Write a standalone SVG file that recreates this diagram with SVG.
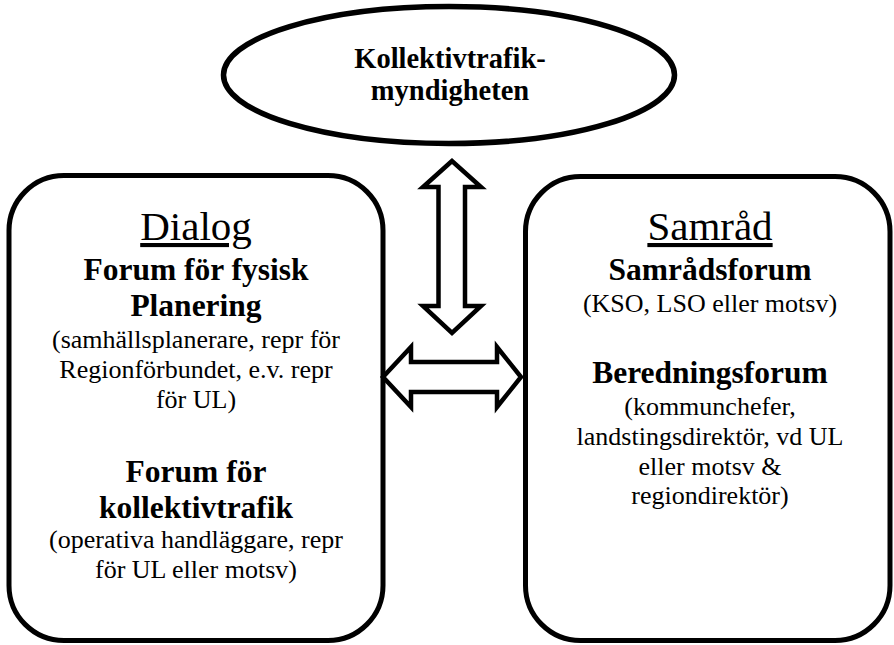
<svg xmlns="http://www.w3.org/2000/svg" width="894" height="645" viewBox="0 0 894 645">
<style>
.shape{fill:#fff;stroke:#000;stroke-width:5}
.arrow{fill:#fff;stroke:#000;stroke-width:4.5;stroke-linejoin:miter}
text{font-family:"Liberation Serif","Times New Roman",serif;fill:#000;text-anchor:middle}
.h{font-size:41px;text-decoration:underline}
.b{font-size:31.5px;font-weight:bold}
.r{font-size:26px}
.e{font-size:28.5px;font-weight:bold}
</style>
<rect width="894" height="645" fill="#fff"/>
<g id="myndigheten">
<ellipse class="shape" cx="449" cy="75" rx="225.5" ry="68.5" style="stroke-width:5.5"/>
<text class="e" x="450" y="68">Kollektivtrafik-</text>
<text class="e" x="450" y="100">myndigheten</text>
</g>
<g id="dialog">
<rect class="shape" x="9" y="175.5" width="374" height="465" rx="55" ry="55"/>
<text class="h" x="196" y="240">Dialog</text>
<text class="b" x="196" y="280">Forum för fysisk</text>
<text class="b" x="196" y="316">Planering</text>
<text class="r" x="196" y="348">(samhällsplanerare, repr för</text>
<text class="r" x="196" y="378">Regionförbundet, e.v. repr</text>
<text class="r" x="196" y="408">för UL)</text>
<text class="b" x="196" y="482">Forum för</text>
<text class="b" x="196" y="518">kollektivtrafik</text>
<text class="r" x="196" y="548">(operativa handläggare, repr</text>
<text class="r" x="196" y="578">för UL eller motsv)</text>
</g>
<g id="samrad">
<rect class="shape" x="525.5" y="176.5" width="364.5" height="464" rx="55" ry="55"/>
<text class="h" x="710" y="240">Samråd</text>
<text class="b" x="710" y="280">Samrådsforum</text>
<text class="r" x="710" y="312">(KSO, LSO eller motsv)</text>
<text class="b" x="710" y="383">Beredningsforum</text>
<text class="r" x="710" y="415">(kommunchefer,</text>
<text class="r" x="710" y="445">landstingsdirektör, vd UL</text>
<text class="r" x="710" y="475">eller motsv &amp;</text>
<text class="r" x="710" y="504">regiondirektör)</text>
</g>
<g id="connectors">
<polygon class="arrow" points="452,161 423,187 438.5,187 438.5,306 423,306 452,333 481,306 465,306 465,187 481,187"/>
<polygon class="arrow" points="383,377 411,347 411,362 497,362 497,347 521,377 497,407 497,392 411,392 411,407"/>
</g>
</svg>
